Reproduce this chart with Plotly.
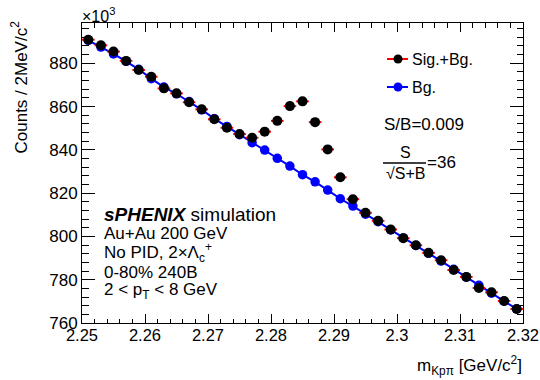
import plotly.graph_objects as go

# ---------------- data (values in units of 10^3 counts) ----------------
mass = [2.251, 2.253, 2.255, 2.257, 2.259, 2.261, 2.263, 2.265, 2.267, 2.269,
        2.271, 2.273, 2.275, 2.277, 2.279, 2.281, 2.283, 2.285, 2.287, 2.289,
        2.291, 2.293, 2.295, 2.297, 2.299, 2.301, 2.303, 2.305, 2.307, 2.309,
        2.311, 2.313, 2.315, 2.317, 2.319]
sig_bg = [890.9, 888.3, 885.4, 881.1, 876.9, 873.8, 868.4, 866.1, 862.0, 858.7,
          854.1, 850.2, 847.3, 845.6, 848.4, 853.4, 860.2, 862.4, 852.8, 840.2,
          827.3, 817.2, 810.9, 807.2, 803.2, 799.2, 795.9, 792.4, 789.0, 784.5,
          781.3, 776.2, 774.2, 770.2, 766.5]
bg = [890.6, 887.5, 884.3, 880.9, 877.2, 872.9, 869.0, 865.9, 862.3, 858.5,
      854.4, 850.8, 847.0, 843.3, 839.9, 836.1, 832.5, 828.5, 825.2, 821.4,
      817.4, 814.0, 810.3, 806.8, 803.0, 799.3, 795.8, 792.2, 788.6, 784.8,
      781.2, 777.4, 773.8, 770.1, 766.5]
bin_half_width = 0.001

x_tickvals = [2.25, 2.26, 2.27, 2.28, 2.29, 2.30, 2.31, 2.32]
x_ticktext = ["2.25", "2.26", "2.27", "2.28", "2.29", "2.3", "2.31", "2.32"]
y_tickvals = [760, 780, 800, 820, 840, 860, 880]
y_ticktext = ["760", "780", "800", "820", "840", "860", "880"]

legend_labels = ["Sig.+Bg.", "Bg."]
info_lines = ["<b><i>sPHENIX</i></b> simulation",
              "Au+Au 200 GeV",
              "No PID, 2×Λ<sub>c</sub><sup>+</sup>",
              "0-80% 240B",
              "2 &lt; p<sub>T</sub> &lt; 8 GeV"]
sb_text = "S/B=0.009"
signif_text = "=36"

# ---------------- layout geometry ----------------
W, H = 540, 380
L, R, T, B = 82, 17, 23, 57
PW, PH = W - L - R, H - T - B
FONT = "Liberation Sans, Arial, Helvetica, sans-serif"


def px(xp):
    return (xp - L) / PW


def py(yp):
    return (H - B - yp) / PH


fig = go.Figure()

fig.add_trace(go.Scatter(
    x=mass, y=bg, mode="lines+markers",
    line=dict(color="#0000ff", width=2),
    marker=dict(color="#0000ff", size=9.5, line=dict(width=0)),
    showlegend=False, name="Bg."))

fig.add_trace(go.Scatter(
    x=mass, y=sig_bg, mode="markers",
    marker=dict(color="black", size=10, line=dict(width=0)),
    error_x=dict(type="constant", value=bin_half_width, color="#ff0000",
                 thickness=2, width=0),
    showlegend=False, name="Sig.+Bg."))

axis_common = dict(
    showline=True, linecolor="black", linewidth=1, mirror="allticks",
    ticks="inside", tickcolor="black", tickwidth=1,
    showgrid=False, zeroline=False, automargin=False,
)

fig.update_xaxes(range=[2.25, 2.32], tickvals=x_tickvals, ticktext=x_ticktext,
                 ticklen=9, ticklabelstandoff=-3,
                 tickfont=dict(family=FONT, size=16.5, color="black"),
                 minor=dict(dtick=0.002, tick0=2.25, ticks="inside", ticklen=4.5,
                            tickcolor="black", tickwidth=1, showgrid=False),
                 **axis_common)
fig.update_yaxes(range=[760, 898.6], tickvals=y_tickvals, ticktext=y_ticktext,
                 ticklen=13,
                 tickfont=dict(family=FONT, size=17, color="black"),
                 minor=dict(dtick=4, tick0=760, ticks="inside", ticklen=6.5,
                            tickcolor="black", tickwidth=1, showgrid=False),
                 **axis_common)

ann = []
shapes = []

# axis titles
ann.append(dict(text="Counts / 2MeV/c<sup>2</sup>", textangle=-90,
                xref="paper", yref="paper", x=px(20), y=py(19),
                xanchor="center", yanchor="top", showarrow=False,
                font=dict(family=FONT, size=17, color="black")))
ann.append(dict(text="m<sub>Kpπ</sub> [GeV/c<sup>2</sup>]",
                xref="paper", yref="paper", x=px(524), y=py(365),
                xanchor="right", yanchor="middle", showarrow=False,
                font=dict(family=FONT, size=17, color="black")))
ann.append(dict(text="×10<sup>3</sup>",
                xref="paper", yref="paper", x=px(80), y=py(15),
                xanchor="left", yanchor="middle", showarrow=False,
                font=dict(family=FONT, size=16, color="black")))

# info block
info_y = [214, 233, 253, 272, 291]
for i, (t, yy) in enumerate(zip(info_lines, info_y)):
    ann.append(dict(text=t, xref="paper", yref="paper", x=px(102), y=py(yy),
                    xanchor="left", yanchor="middle", showarrow=False,
                    font=dict(family=FONT, size=19 if i == 0 else 17, color="black")))

# legend (manual, ROOT style)
leg_y = [59, 87]
leg_line_col = ["#ff0000", "#0000ff"]
leg_mark_col = ["black", "#0000ff"]
for lab, yy, lc, mc in zip(legend_labels, leg_y, leg_line_col, leg_mark_col):
    shapes.append(dict(type="line", xref="paper", yref="paper",
                       x0=px(387), x1=px(408), y0=py(yy), y1=py(yy),
                       line=dict(color=lc, width=2)))
    shapes.append(dict(type="circle", xref="paper", yref="paper",
                       xsizemode="pixel", ysizemode="pixel",
                       xanchor=px(398), yanchor=py(yy),
                       x0=-4.5, x1=4.5, y0=-4.5, y1=4.5,
                       fillcolor=mc, line=dict(width=0)))
    ann.append(dict(text=lab, xref="paper", yref="paper", x=px(410), y=py(yy),
                    xanchor="left", yanchor="middle", showarrow=False,
                    font=dict(family=FONT, size=16, color="black")))

# S/B and significance
ann.append(dict(text=sb_text, xref="paper", yref="paper", x=px(382), y=py(125),
                xanchor="left", yanchor="middle", showarrow=False,
                font=dict(family=FONT, size=17, color="black")))
ann.append(dict(text="S", xref="paper", yref="paper", x=px(405), y=py(152),
                xanchor="center", yanchor="middle", showarrow=False,
                font=dict(family=FONT, size=16, color="black")))
shapes.append(dict(type="line", xref="paper", yref="paper",
                   x0=px(383), x1=px(426), y0=py(163), y1=py(163),
                   line=dict(color="black", width=1.5)))
ann.append(dict(text="√S+B", xref="paper", yref="paper", x=px(405), y=py(173),
                xanchor="center", yanchor="middle", showarrow=False,
                font=dict(family=FONT, size=16, color="black")))
ann.append(dict(text=signif_text, xref="paper", yref="paper", x=px(425), y=py(162),
                xanchor="left", yanchor="middle", showarrow=False,
                font=dict(family=FONT, size=17, color="black")))

fig.update_layout(
    width=W, height=H,
    margin=dict(l=L, r=R, t=T, b=B, pad=0),
    paper_bgcolor="white", plot_bgcolor="white",
    font=dict(family=FONT, color="black"),
    annotations=ann, shapes=shapes, showlegend=False,
)

fig.write_html("out.html", config={"displayModeBar": False},
               post_script="document.body.style.margin='0';document.body.style.overflow='hidden';")
